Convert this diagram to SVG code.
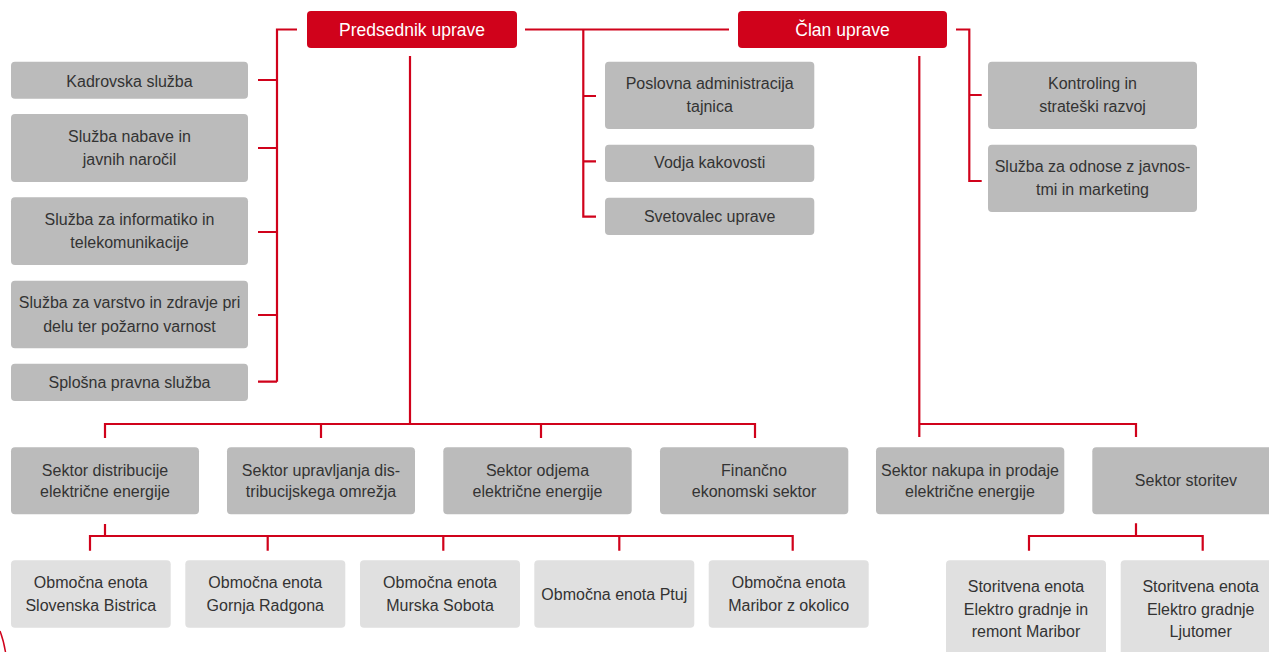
<svg xmlns="http://www.w3.org/2000/svg" width="1269" height="652" viewBox="0 0 1269 652">
<style>
.top rect{fill:#d0021b}
.top text{fill:#ffffff;font-size:17.5px}
.g rect{fill:#bbbbbb}
.l rect{fill:#e0e0e0}
text{font-family:"Liberation Sans",Arial,sans-serif;font-size:16px;fill:#333333;text-anchor:middle}
#connectors path{fill:none;stroke:#d0021b;stroke-width:2.2}
</style>
<rect width="1269" height="652" fill="#ffffff"/>
<g id="connectors">
<path d="M297,29.5 H277 V381.7 M258,80 H277 M258,148 H277 M258,232 H277 M258,315 H277 M258,381.7 H277"/>
<path d="M525,29.5 H729 M583.3,29.5 V216.7 H596 M583.3,96 H596 M583.3,161.3 H596"/>
<path d="M956,29.5 H969.3 V181 H981.7 M969.3,95 H981.7"/>
<path d="M410,56 V424 M105,438 V424 H755 V438 M321,424 V438 M541,424 V438"/>
<path d="M919.3,56 V437 M919.3,424 H1136 V437"/>
<path d="M105,524 V536 M90,550.7 V536 H792.7 V550.7 M267.7,536 V550.7 M443.3,536 V550.7 M619.3,536 V550.7"/>
<path d="M1136,523.3 V536 M1029,550.7 V536 H1202.7 V550.7"/>
<path d="M0,631 Q3.5,640 5.5,652" style="stroke-width:1.5"/>
</g>
<g id="n-predsednik" class="top"><rect x="307" y="11" width="210" height="37" rx="4"/><text x="412" y="36">Predsednik uprave</text></g>
<g id="n-clan" class="top"><rect x="738" y="11" width="209" height="37" rx="4"/><text x="842.5" y="36">Član uprave</text></g>

<g id="n-kadrovska" class="g"><rect x="11" y="61.7" width="237" height="37" rx="4"/><text x="129.5" y="86.5">Kadrovska služba</text></g>
<g id="n-nabave" class="g"><rect x="11" y="114" width="237" height="68" rx="4"/><text x="129.5" y="141.7">Služba nabave in</text><text x="129.5" y="165">javnih naročil</text></g>
<g id="n-informatiko" class="g"><rect x="11" y="197.3" width="237" height="67.7" rx="4"/><text x="129.5" y="225">Služba za informatiko in</text><text x="129.5" y="248.3">telekomunikacije</text></g>
<g id="n-varstvo" class="g"><rect x="11" y="280.7" width="237" height="67.6" rx="4"/><text x="129.5" y="308.3">Služba za varstvo in zdravje pri</text><text x="129.5" y="331.6">delu ter požarno varnost</text></g>
<g id="n-pravna" class="g"><rect x="11" y="363.7" width="237" height="37.3" rx="4"/><text x="129.5" y="388.3">Splošna pravna služba</text></g>

<g id="n-poslovna" class="g"><rect x="605" y="61.7" width="209.3" height="67.3" rx="4"/><text x="709.7" y="89.3">Poslovna administracija</text><text x="709.7" y="111.7">tajnica</text></g>
<g id="n-vodja" class="g"><rect x="605" y="144.7" width="209.3" height="37.3" rx="4"/><text x="709.7" y="168.3">Vodja kakovosti</text></g>
<g id="n-svetovalec" class="g"><rect x="605" y="197.7" width="209.3" height="37.3" rx="4"/><text x="709.7" y="221.7">Svetovalec uprave</text></g>

<g id="n-kontroling" class="g"><rect x="988" y="61.7" width="209" height="67.3" rx="4"/><text x="1092.5" y="89.3">Kontroling in</text><text x="1092.5" y="111.7">strateški razvoj</text></g>
<g id="n-odnose" class="g"><rect x="988" y="144.7" width="209" height="67.3" rx="4"/><text x="1092.5" y="172.3">Služba za odnose z javnos-</text><text x="1092.5" y="194.7">tmi in marketing</text></g>

<g id="n-distribucije" class="g"><rect x="11" y="447.3" width="188" height="67" rx="4"/><text x="105" y="475.7">Sektor distribucije</text><text x="105" y="497.3">električne energije</text></g>
<g id="n-upravljanja" class="g"><rect x="227" y="447.3" width="188" height="67" rx="4"/><text x="321" y="475.7">Sektor upravljanja dis-</text><text x="321" y="497.3">tribucijskega omrežja</text></g>
<g id="n-odjema" class="g"><rect x="443.3" y="447.3" width="188.4" height="67" rx="4"/><text x="537.5" y="475.7">Sektor odjema</text><text x="537.5" y="497.3">električne energije</text></g>
<g id="n-financno" class="g"><rect x="660" y="447.3" width="188.3" height="67" rx="4"/><text x="754" y="475.7">Finančno</text><text x="754" y="497.3">ekonomski sektor</text></g>
<g id="n-nakupa" class="g"><rect x="876" y="447.3" width="188.3" height="67" rx="4"/><text x="970" y="475.7">Sektor nakupa in prodaje</text><text x="970" y="497.3">električne energije</text></g>
<g id="n-storitev" class="g"><rect x="1092.3" y="447.3" width="188" height="67" rx="4"/><text x="1186" y="486">Sektor storitev</text></g>

<g id="n-oe-sb" class="l"><rect x="11" y="560.3" width="159.7" height="67.4" rx="4"/><text x="90.8" y="588.3">Območna enota</text><text x="90.8" y="610.7">Slovenska Bistrica</text></g>
<g id="n-oe-gr" class="l"><rect x="185.3" y="560.3" width="160" height="67.4" rx="4"/><text x="265.3" y="588.3">Območna enota</text><text x="265.3" y="610.7">Gornja Radgona</text></g>
<g id="n-oe-ms" class="l"><rect x="360" y="560.3" width="160" height="67.4" rx="4"/><text x="440" y="588.3">Območna enota</text><text x="440" y="610.7">Murska Sobota</text></g>
<g id="n-oe-ptuj" class="l"><rect x="534.3" y="560.3" width="160" height="67.4" rx="4"/><text x="614.3" y="600">Območna enota Ptuj</text></g>
<g id="n-oe-mb" class="l"><rect x="708.7" y="560.3" width="160" height="67.4" rx="4"/><text x="788.7" y="588.3">Območna enota</text><text x="788.7" y="610.7">Maribor z okolico</text></g>

<g id="n-se-mb" class="l"><rect x="946" y="560.3" width="160" height="100" rx="4"/><text x="1026" y="591.7">Storitvena enota</text><text x="1026" y="614.5">Elektro gradnje in</text><text x="1026" y="637">remont Maribor</text></g>
<g id="n-se-lj" class="l"><rect x="1120.7" y="560.3" width="160" height="100" rx="4"/><text x="1200.7" y="591.7">Storitvena enota</text><text x="1200.7" y="614.5">Elektro gradnje</text><text x="1200.7" y="637">Ljutomer</text></g>
</svg>
